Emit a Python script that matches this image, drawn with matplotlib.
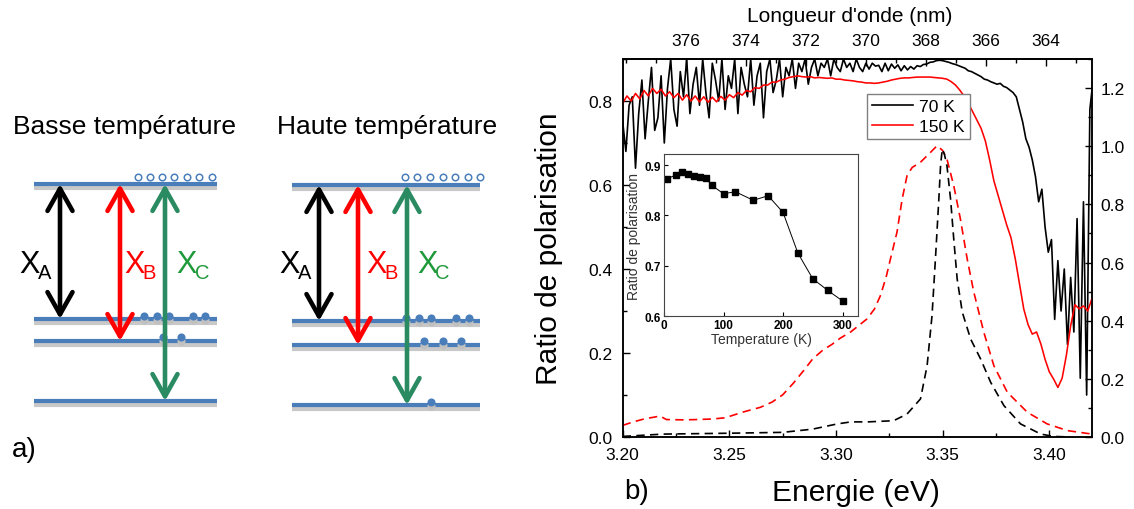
import numpy as np
import matplotlib
matplotlib.use("Agg")
import matplotlib.pyplot as plt
from matplotlib.patches import FancyArrowPatch
from matplotlib.ticker import MultipleLocator, FormatStrFormatter

plt.rcParams['font.family'] = ['Liberation Sans', 'DejaVu Sans']

# ---------------- data ----------------
# inset: polarisation ratio vs temperature
temp_K = [5, 20, 30, 40, 50, 60, 70, 80, 100, 120, 150, 175, 200, 225, 250, 275, 300]
ratio_T = [0.873, 0.880, 0.887, 0.883, 0.879, 0.877, 0.875, 0.860, 0.843, 0.847,
           0.830, 0.839, 0.806, 0.725, 0.674, 0.651, 0.630]

# polarisation ratio at 70 K, one value every 1.5 meV from 3.200 eV
e70_start, e70_step = 3.200, 0.0015
ratio_70K = [
    0.75, 0.68, 0.79, 0.81, 0.64, 0.77, 0.85, 0.71, 0.80, 0.88,
    0.73, 0.76, 0.86, 0.70, 0.83, 0.90, 0.78, 0.74, 0.87, 0.81,
    0.90, 0.77, 0.84, 0.88, 0.79, 0.90, 0.82, 0.76, 0.89, 0.85,
    0.80, 0.90, 0.78, 0.86, 0.83, 0.90, 0.77, 0.88, 0.84, 0.81,
    0.90, 0.79, 0.86, 0.89, 0.76, 0.87, 0.90, 0.82, 0.85, 0.90,
    0.81, 0.88, 0.86, 0.90, 0.83, 0.89, 0.87, 0.90, 0.84, 0.88,
    0.90, 0.86, 0.89, 0.88, 0.90, 0.86, 0.90, 0.88, 0.87, 0.90,
    0.88, 0.89, 0.87, 0.90, 0.88, 0.87, 0.89, 0.876, 0.89, 0.883,
    0.885, 0.87, 0.89, 0.872, 0.888, 0.878, 0.886, 0.872, 0.884, 0.874,
    0.882, 0.876, 0.884, 0.882, 0.887, 0.888, 0.892, 0.893, 0.896, 0.897,
    0.896, 0.894, 0.892, 0.889, 0.887, 0.884, 0.881, 0.878, 0.872, 0.870,
    0.866, 0.862, 0.858, 0.852, 0.850, 0.846, 0.843, 0.840, 0.842, 0.835,
    0.832, 0.826, 0.820, 0.810, 0.780, 0.750, 0.710, 0.690, 0.660, 0.620,
    0.56, 0.59, 0.50, 0.44, 0.47, 0.28, 0.42, 0.30, 0.40, 0.22,
    0.38, 0.25, 0.52, 0.14, 0.56, 0.10, 0.78, 0.85,
]

# polarisation ratio at 150 K, one value every 2 meV from 3.200 eV
e150_start, e150_step = 3.200, 0.002
ratio_150K = [
    0.795, 0.812, 0.800, 0.818, 0.805, 0.825, 0.812, 0.830, 0.818, 0.828,
    0.812, 0.822, 0.808, 0.818, 0.802, 0.815, 0.800, 0.812, 0.798, 0.810,
    0.797, 0.809, 0.798, 0.811, 0.802, 0.815, 0.808, 0.820, 0.814, 0.825,
    0.822, 0.832, 0.830, 0.838, 0.838, 0.845, 0.845, 0.850, 0.852, 0.856,
    0.858, 0.860, 0.858, 0.857, 0.858, 0.855, 0.856, 0.855, 0.854, 0.855,
    0.852, 0.852, 0.850, 0.849, 0.848, 0.846, 0.845, 0.843, 0.843, 0.842,
    0.843, 0.845, 0.847, 0.850, 0.852, 0.854, 0.855, 0.855, 0.856, 0.857,
    0.857, 0.857, 0.857, 0.856, 0.855, 0.854, 0.852, 0.846, 0.838, 0.826,
    0.812, 0.795, 0.775, 0.755, 0.735, 0.705, 0.660, 0.610, 0.575, 0.540,
    0.505, 0.475, 0.425, 0.365, 0.305, 0.268, 0.245, 0.250, 0.222, 0.185,
    0.155, 0.138, 0.118, 0.140, 0.195, 0.265, 0.315, 0.305, 0.312, 0.300,
    0.330,
]

# normalised PL spectra (right axis)
pl150_E = [3.200, 3.205, 3.210, 3.2175, 3.2205, 3.228, 3.235, 3.242, 3.248, 3.2565,
           3.2645, 3.270, 3.275, 3.280, 3.285, 3.289, 3.294, 3.298, 3.302, 3.307,
           3.3145, 3.318, 3.3208, 3.3235, 3.3255, 3.3286, 3.331, 3.3333, 3.3357, 3.3396,
           3.3443, 3.3474, 3.350, 3.352, 3.3552, 3.3583, 3.3615, 3.3646, 3.3693, 3.374,
           3.3803, 3.3897, 3.399, 3.4085, 3.420]
pl150_I = [0.040, 0.052, 0.062, 0.072, 0.060, 0.059, 0.060, 0.062, 0.066, 0.086,
           0.102, 0.120, 0.145, 0.185, 0.230, 0.268, 0.300, 0.318, 0.340, 0.362,
           0.406, 0.440, 0.486, 0.550, 0.612, 0.705, 0.818, 0.899, 0.927, 0.945,
           0.979, 1.002, 0.985, 0.956, 0.864, 0.750, 0.612, 0.498, 0.360, 0.245,
           0.154, 0.085, 0.045, 0.022, 0.010]
pl70_E = [3.200, 3.219, 3.250, 3.275, 3.289, 3.3006, 3.307, 3.315, 3.327, 3.3333,
          3.3396, 3.3427, 3.345, 3.3466, 3.3482, 3.349, 3.3498, 3.3508, 3.352, 3.3537,
          3.3552, 3.3568, 3.3592, 3.3631, 3.3678, 3.3725, 3.3787, 3.3865, 3.396, 3.402,
          3.410]
pl70_I = [0.002, 0.010, 0.013, 0.016, 0.027, 0.045, 0.052, 0.052, 0.056, 0.079,
          0.131, 0.245, 0.417, 0.612, 0.818, 0.933, 0.990, 0.973, 0.933, 0.818,
          0.680, 0.543, 0.429, 0.337, 0.268, 0.188, 0.108, 0.045, 0.010, 0.002,
          0.000]

legend_labels = ['70 K', '150 K']
top_ticks_nm = [364, 366, 368, 370, 372, 374, 376]
# wavelength scale shown on the top axis (nm at 3.20 eV, nm per eV)
wl_at_320, wl_per_eV = 378.1, 71.1

# schematic (pixel layout of the two level diagrams)
diag_titles = ['Basse température', 'Haute température']
diag_title_x = [124.5, 387]
diag_x0 = [34, 292]
diag_x1 = [217, 480]
diag_levels = [[185, 320, 342, 402], [186, 322, 346, 406]]
diag_arrow_x = [[60, 120, 165], [319, 358, 407]]
diag_arrow_end = [[1, 2, 3], [1, 2, 3]]
diag_open_x = [[138, 150, 162, 174, 187, 199, 212], [405, 417, 430, 443, 455, 468, 480]]
diag_dots = [
    [(144, 317), (157, 317), (169, 317), (193, 317), (205, 317), (163, 338), (181, 338)],
    [(406, 319), (419, 319), (431, 319), (456, 319), (469, 319),
     (424, 342), (443, 342), (461, 342), (431, 403)],
]
trans_names = ['A', 'B', 'C']
trans_colors = ['black', '#ff0000', '#2a8a62']
trans_label_colors = ['black', '#ff0000', '#1f9a3a']
label_x = [[19, 124, 176], [279, 366, 417]]

# ---------------- figure ----------------
W, H = 1134, 510
fig = plt.figure(figsize=(W / 100, H / 100), dpi=100)

# schematic axes in pixel coordinates
axs = fig.add_axes([0, 0, 1, 1], zorder=-1)
axs.set_xlim(0, W)
axs.set_ylim(H, 0)
axs.axis('off')
blue = '#4a7ebb'
for d in range(2):
    axs.text(diag_title_x[d], 134, diag_titles[d], fontsize=19, ha='center', va='baseline')
    for y in diag_levels[d]:
        axs.plot([diag_x0[d], diag_x1[d]], [y + 3.5, y + 3.5], color='#c8c8c8', lw=3, solid_capstyle='butt', zorder=1)
        axs.plot([diag_x0[d], diag_x1[d]], [y, y], color=blue, lw=3, solid_capstyle='butt', zorder=2)
    for j in range(3):
        x = diag_arrow_x[d][j]
        y0 = diag_levels[d][0]
        y1 = diag_levels[d][diag_arrow_end[d][j]]
        arr = FancyArrowPatch((x, y0), (x, y1), arrowstyle='<->,head_length=0.8,head_width=0.45',
                              mutation_scale=20, lw=3.3, color=trans_colors[j], shrinkA=0, shrinkB=0,
                              capstyle='round', joinstyle='round', zorder=4)
        axs.add_patch(arr)
        lx = label_x[d][j]
        axs.text(lx, 273, 'X', fontsize=22, color=trans_label_colors[j], ha='left', va='baseline', zorder=5)
        axs.text(lx + 18.5, 279, trans_names[j], fontsize=14.5, color=trans_label_colors[j],
                 ha='left', va='baseline', zorder=5)
    axs.scatter(diag_open_x[d], [178] * len(diag_open_x[d]), s=22, facecolor='white',
                edgecolor=blue, lw=1.1, zorder=3)
    dx = [p[0] for p in diag_dots[d]]
    dy = [p[1] for p in diag_dots[d]]
    axs.scatter(dx, [v + 4 for v in dy], s=34, color='#c0c0c0', lw=0, zorder=2.5)
    axs.scatter(dx, dy, s=34, color=blue, lw=0, zorder=3)

axs.text(12, 457, 'a)', fontsize=20, ha='left', va='baseline')
axs.text(624, 499, 'b)', fontsize=20, ha='left', va='baseline')

# main axes
L, R, T, B = 622.7, 1092, 60, 438
ax = fig.add_axes([L / W, 1 - B / H, (R - L) / W, (B - T) / H])
ax.set_xlim(3.20, 3.42)
ax.set_ylim(0, 0.9)
E70 = e70_start + e70_step * np.arange(len(ratio_70K))
E150 = e150_start + e150_step * np.arange(len(ratio_150K))
l70, = ax.plot(E70, ratio_70K, color='black', lw=1.2, zorder=2)
l150, = ax.plot(E150, ratio_150K, color='red', lw=1.15, zorder=3)

ax2 = ax.twinx()
ax2.set_ylim(0, 1.3)
ax2.plot(pl150_E, pl150_I, color='red', lw=1.2, ls=(0, (5, 3.2)))
ax2.plot(pl70_E, pl70_I, color='black', lw=1.2, ls=(0, (5, 3.2)))

for a in (ax, ax2):
    for s in a.spines.values():
        s.set_linewidth(1.1)

ax.xaxis.set_major_locator(MultipleLocator(0.05))
ax.xaxis.set_minor_locator(MultipleLocator(0.025))
ax.xaxis.set_major_formatter(FormatStrFormatter('%.2f'))
ax.yaxis.set_major_locator(MultipleLocator(0.2))
ax.yaxis.set_minor_locator(MultipleLocator(0.1))
ax.yaxis.set_major_formatter(FormatStrFormatter('%.1f'))
ax2.yaxis.set_major_locator(MultipleLocator(0.2))
ax2.yaxis.set_minor_locator(MultipleLocator(0.1))
ax2.yaxis.set_major_formatter(FormatStrFormatter('%.1f'))

ax.tick_params(which='both', direction='in', top=False, right=False, width=1)
ax.tick_params(which='major', length=5, labelsize=12.5, pad=7)
ax.tick_params(which='minor', length=3)
ax2.tick_params(which='both', direction='in', width=1)
ax2.tick_params(which='major', length=5, labelsize=12.5, pad=6)
ax2.tick_params(which='minor', length=3)


def e2l(e):
    return wl_at_320 - wl_per_eV * (np.asarray(e) - 3.20)


def l2e(l):
    return 3.20 + (wl_at_320 - np.asarray(l)) / wl_per_eV


sec = ax.secondary_xaxis('top', functions=(e2l, l2e))
sec.set_xticks(top_ticks_nm)
sec.set_xticklabels([str(v) for v in top_ticks_nm])
sec.xaxis.set_minor_locator(MultipleLocator(1))
sec.tick_params(which='both', direction='in', width=1)
sec.tick_params(which='major', length=5, labelsize=12.5, pad=8)
sec.tick_params(which='minor', length=3)
sec.spines['top'].set_linewidth(1.1)

fig.text(850 / W, 1 - 17 / H, "Longueur d'onde (nm)", fontsize=15, ha='center', va='center')
fig.text(856 / W, 1 - 493 / H, 'Energie (eV)', fontsize=21.5, ha='center', va='center')
fig.text(549 / W, 1 - 249 / H, 'Ratio de polarisation', fontsize=21.5, ha='center', va='center',
         rotation=90)

leg = fig.legend([l70, l150], legend_labels, loc='upper left',
                 bbox_to_anchor=(867 / W, 1 - 95 / H), fontsize=12.6, frameon=True,
                 fancybox=False, edgecolor='#808080', framealpha=1, borderpad=0.3,
                 borderaxespad=0, handlelength=2.3, handletextpad=0.35, labelspacing=0.25)
leg.get_frame().set_linewidth(1.0)

# inset
iL, iR, iT, iB = 664, 858, 155, 317
axi = fig.add_axes([iL / W, 1 - iB / H, (iR - iL) / W, (iB - iT) / H])
axi.plot(temp_K, ratio_T, color='black', lw=0.7, marker='s', ms=3.8)
axi.set_xlim(0, 326)
axi.set_ylim(0.6, 0.922)
axi.set_xticks([0, 100, 200, 300])
axi.set_xticklabels(['0', '100', '200', '300'], fontweight='bold')
axi.set_yticks([0.6, 0.7, 0.8, 0.9])
axi.set_yticklabels(['0.6', '0.7', '0.8', '0.9'], fontweight='bold')
axi.tick_params(direction='in', length=3, width=0.8, labelsize=8.5, pad=2)
for s in axi.spines.values():
    s.set_linewidth(0.8)
    s.set_color('#444444')
axi.set_xlabel('Temperature (K)', fontsize=10, labelpad=1, color='#333333')
axi.set_ylabel('Ratio de polarisation', fontsize=10, labelpad=3, color='#333333')

fig.savefig('out.png', dpi=100)
